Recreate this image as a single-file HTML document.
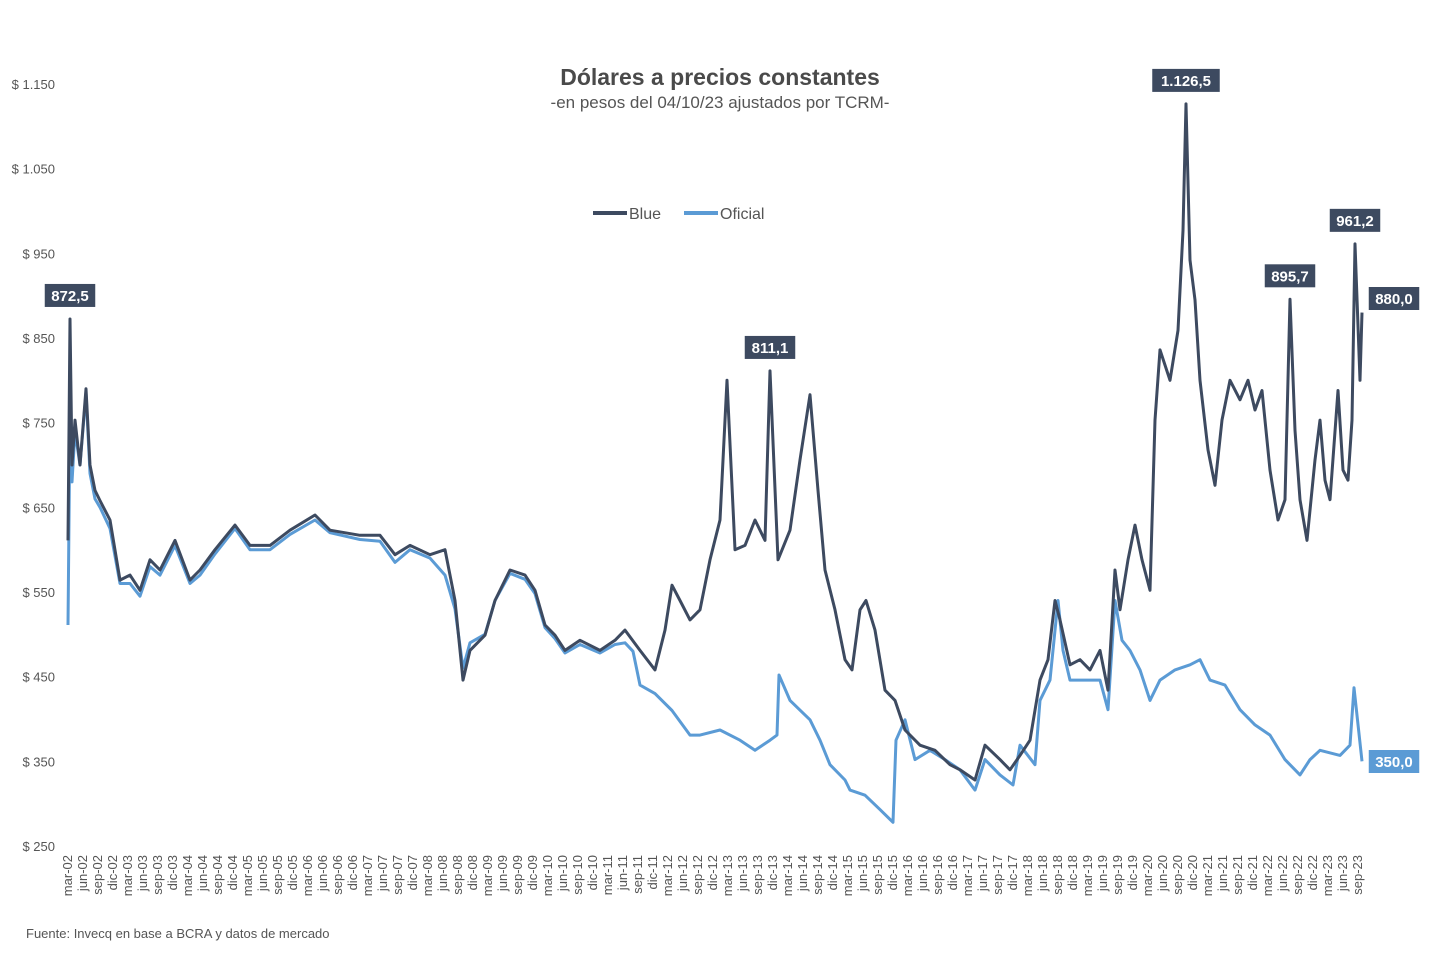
<!DOCTYPE html>
<html><head><meta charset="utf-8"><style>
body{margin:0;background:#fff;font-family:"Liberation Sans",sans-serif}
svg text{font-family:"Liberation Sans",sans-serif}
</style></head><body>
<svg id="c" width="1440" height="966" viewBox="0 0 1440 966">
<text x="720" y="85" text-anchor="middle" font-size="23" font-weight="bold" fill="#4a4a4a">Dólares a precios constantes</text>
<text x="720" y="108" text-anchor="middle" font-size="17" fill="#555">-en pesos del 04/10/23 ajustados por TCRM-</text>
<g>
<line x1="593" y1="213" x2="627" y2="213" stroke="#3d4a60" stroke-width="4"/>
<text x="629" y="219" font-size="16" fill="#555">Blue</text>
<line x1="684" y1="213" x2="718" y2="213" stroke="#5b9bd5" stroke-width="4"/>
<text x="720" y="219" font-size="16" fill="#555">Oficial</text>
</g>
<g id="axes"></g>
<g id="series"></g>
<g id="labels"></g>
<text x="26" y="938" font-size="13" fill="#555">Fuente: Invecq en base a BCRA y datos de mercado</text>
</svg>
<script>
const yTicks=[250,350,450,550,650,750,850,950,1050,1150];
const monthNames=["mar","jun","sep","dic"];
const blueMonths=[0,0.4,0.8,1.4,2.4,3.6,4.4,5.4,6.4,8.4,10.4,12.4,14.4,16.4,18.4,21.4,24.4,26.4,29.4,33.4,36.4,40.4,44.4,49.4,52.4,58.4,62.4,65.4,68.4,72.4,75.4,77.4,79,80.4,83.4,85.4,88.4,91.4,93.4,95.4,97.4,99.4,102.4,106.4,109.4,111.4,114.4,117.4,119.4,120.8,122.4,124.4,126.4,128.4,130.4,131.8,133.4,135.4,137.4,139.4,140.4,142,144.4,146.4,148.4,150,151.4,153.4,155.4,156.8,158.4,159.6,161.4,163.4,165.4,167.4,170.4,173.4,176.4,178.4,181.4,183.4,186.4,188.4,190.4,192.4,194.4,196,197.4,198.4,200.4,202.4,204.4,206.4,208,209.4,210.4,212,213.4,214.8,216.4,217.4,218.4,220.4,222,223,223.6,224.4,225.4,226.4,228,229.4,230.8,232.4,234.4,236,237.4,238.8,240.4,242,243.4,244.4,245.4,246.4,247.8,249.4,250.4,251.4,252.4,254,255,256,256.8,257.4,258.4,258.8];
const blueValues=[611,872.5,700,753,700,790,700,670,658,635,564,570,552,588,576,611,564,576,600,629,605,605,623,641,623,617,617,594,605,594,600,540,446,481,499,540,576,570,552,511,499,481,493,481,493,505,481,458,505,558,540,517,529,588,635,800,600,605,635,611,811.1,588,623,706,783,670,576,529,470,458,529,540,505,434,422,387,369,363,346,340,328,369,352,340,357,375,446,470,540,517,464,470,458,481,434,576,529,588,629,588,552,753,836,800,859,977,1126.5,942,895,800,718,676,753,800,777,800,765,788,694,635,659,895.7,741,659,611,706,753,682,659,788,694,682,753,961.2,800,880];
const oficialMonths=[0,0.4,0.8,1.4,2.4,3.6,4.4,5.4,6.4,8.4,10.4,12.4,14.4,16.4,18.4,21.4,24.4,26.4,29.4,33.4,36.4,40.4,44.4,49.4,52.4,58.4,62.4,65.4,68.4,72.4,75.4,77.4,79,80.4,83.4,85.4,88.4,91.4,93.4,95.4,97.4,99.4,102.4,106.4,109.4,111.4,113,114.4,117.4,120.8,124.4,126.4,130.4,134.4,137.4,140.4,141.8,142.2,144.4,148.4,150.4,152.4,155.4,156.4,159.4,162.4,165,165.6,167.4,169.4,172.4,175.4,178.4,181.4,183.4,186.4,189,190.4,193.4,194.4,196.4,198,199,200.4,203.4,206.4,208,209.4,210.8,212.4,214.4,216.4,218.4,221.4,224.4,226.4,228.4,231.4,234.4,237.4,240.4,243.4,246.4,248.4,250.4,254.4,256.4,257.2,258.8];
const oficialValues=[511,760,680,740,700,785,690,660,650,625,560,560,545,580,570,605,560,570,595,625,600,600,618,635,620,612,610,585,600,590,570,530,460,490,500,540,572,565,548,508,495,478,488,478,488,490,480,440,430,410,381,381,387,375,363,375,381,452,422,399,375,346,328,316,310,293,278,375,399,352,363,352,340,316,352,334,322,369,346,422,446,540,481,446,446,446,411,540,493,481,458,422,446,458,464,470,446,440,411,393,381,352,334,352,363,357,369,437,350];
const callouts=[["872,5",0.4,872.5,"#3d4a60"],["811,1",140.4,811.1,"#3d4a60"],["1.126,5",223.6,1126.5,"#3d4a60"],["895,7",244.4,895.7,"#3d4a60"],["961,2",257.4,961.2,"#3d4a60"]];
const NS="http://www.w3.org/2000/svg";
const X=m=>68+m*5;
const Y=v=>846-(v-250)*(762/900);
function mk(t,a,p){const e=document.createElementNS(NS,t);for(const k in a)e.setAttribute(k,a[k]);p.appendChild(e);return e;}
const axes=document.getElementById('axes');
yTicks.forEach(v=>{const t=mk('text',{x:55,y:Y(v)+5,'text-anchor':'end','font-size':13,fill:'#555'},axes);t.textContent='$ '+(v>=1000?Math.floor(v/1000)+'.'+String(v%1000).padStart(3,'0'):v);

});
for(let m=0;m<=258;m+=3){const yr=2002+Math.floor((m+2)/12);const nm=monthNames[(m/3)%4];const lx=X(m)+4;const t=mk('text',{x:lx,y:855,'text-anchor':'end','font-size':13,fill:'#555',transform:`rotate(-90 ${lx} 855)`},axes);t.textContent=nm+'-'+String(yr%100).padStart(2,'0');

}
const ser=document.getElementById('series');
function line(ms,vs,col,name){const d=ms.map((m,i)=>(i?'L':'M')+X(m).toFixed(1)+','+Y(vs[i]).toFixed(1)).join('');const p=mk('path',{d:d,fill:'none',stroke:col,'stroke-width':3,'stroke-linejoin':'round'},ser);

}
line(oficialMonths,oficialValues,'#5b9bd5','oficial-line');
line(blueMonths,blueValues,'#3d4a60','blue-line');
const lab=document.getElementById('labels');
function box(txt,cx,cy,col,name){const w=txt.length*8.5+8;const g=mk('g',{},lab);


mk('rect',{x:cx-w/2,y:cy-11,width:w,height:23,fill:col},g);const t=mk('text',{x:cx,y:cy+6,'text-anchor':'middle','font-size':15,'font-weight':'bold',fill:'#fff'},g);t.textContent=txt;}
callouts.forEach(c=>box(c[0],X(c[1]),Y(c[2])-24,c[3],'callout-'+c[0]));
box(blueValues[blueValues.length-1].toFixed(1).replace('.',','),1394,298,'#3d4a60','callout-blue-last');
box(oficialValues[oficialValues.length-1].toFixed(1).replace('.',','),1394,761,'#5b9bd5','callout-oficial-last');
</script>
</body></html>
